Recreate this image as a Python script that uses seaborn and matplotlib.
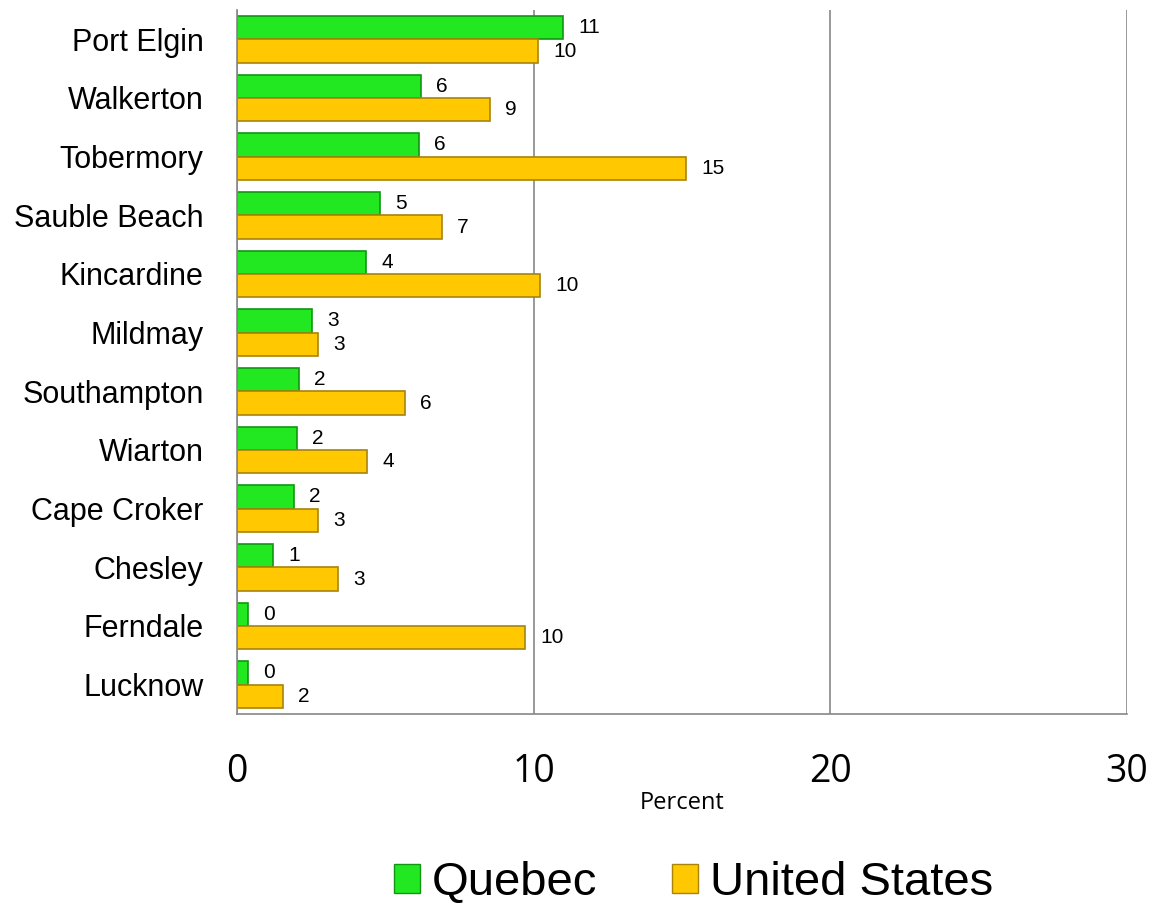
import pandas as pd
import seaborn as sns
import numpy as np
import matplotlib.pyplot as plt
from matplotlib.patches import Patch

# towns, top to bottom
towns = ["Port Elgin", "Walkerton", "Tobermory", "Sauble Beach", "Kincardine", "Mildmay",
         "Southampton", "Wiarton", "Cape Croker", "Chesley", "Ferndale", "Lucknow"]
quebec = [11.0, 6.2, 6.13, 4.82, 4.35, 2.52, 2.09, 2.02, 1.92, 1.21, 0.37, 0.37]
usa = [10.14, 8.52, 15.13, 6.91, 10.21, 2.73, 5.66, 4.38, 2.73, 3.4, 9.7, 1.55]
series = ["Quebec", "United States"]
xticks = [0, 10, 20, 30]

df = pd.DataFrame({
    "town": towns * 2,
    "pct": quebec + usa,
    "origin": [series[0]] * len(towns) + [series[1]] * len(towns),
})

sns.set_style("white")
plt.rcParams["font.family"] = ["Liberation Sans", "DejaVu Sans"]
plt.rcParams["text.color"] = "black"
plt.rcParams["axes.labelcolor"] = "black"
plt.rcParams["xtick.labelcolor"] = "black"
plt.rcParams["ytick.labelcolor"] = "black"

colors = {"Quebec": "#22E822", "United States": "#FFC800"}
edges = {"Quebec": "#129612", "United States": "#A8840A"}

fig = plt.figure(figsize=(11.54, 9.07), dpi=100)
ax = fig.add_axes([0.2054, 0.2128, 0.7712, 0.7762])

sns.barplot(data=df, x="pct", y="town", hue="origin", order=towns, hue_order=series,
            palette=colors, saturation=1, orient="h", width=0.8, ax=ax, legend=False)

for cont, name in zip(ax.containers, series):
    for bar in cont:
        bar.set_edgecolor(edges[name])
        bar.set_linewidth(1.2)
    ax.bar_label(cont, labels=[f"{v:.0f}" for v in cont.datavalues], padding=11, fontsize=15)

ax.set_xlim(0, 30)
ax.set_ylim(11.5, -0.5)
ax.set_xticks(xticks)
ax.set_xticklabels([str(t) for t in xticks], fontsize=27, family=["Open Sans", "DejaVu Sans"])
ax.tick_params(axis="x", length=8, color="#888888", pad=20)
ax.tick_params(axis="y", which="major", length=0, labelsize=22, pad=24)
ax.set_yticks(np.arange(-0.5, len(towns), 1.0), minor=True)
ax.tick_params(axis="y", which="minor", length=8, color="#888888")
ax.xaxis.grid(True, color="#888888", linewidth=1.2)
ax.set_axisbelow(True)
for s in ["top", "right"]:
    ax.spines[s].set_visible(False)
for s in ["left", "bottom"]:
    ax.spines[s].set_color("#888888")
    ax.spines[s].set_linewidth(1.2)
ax.set_ylabel("")
ax.set_xlabel("Percent", fontsize=17, family=["Open Sans", "DejaVu Sans"], labelpad=0)

handles = [Patch(facecolor=colors[n], edgecolor=edges[n]) for n in series]
fig.legend(handles, series, loc="center", bbox_to_anchor=(0.601, 0.026), ncol=2, frameon=False,
           fontsize=34, handlelength=0.55, handleheight=0.55, handletextpad=0.25, columnspacing=1.6)

fig.savefig("out.png", dpi=100)
